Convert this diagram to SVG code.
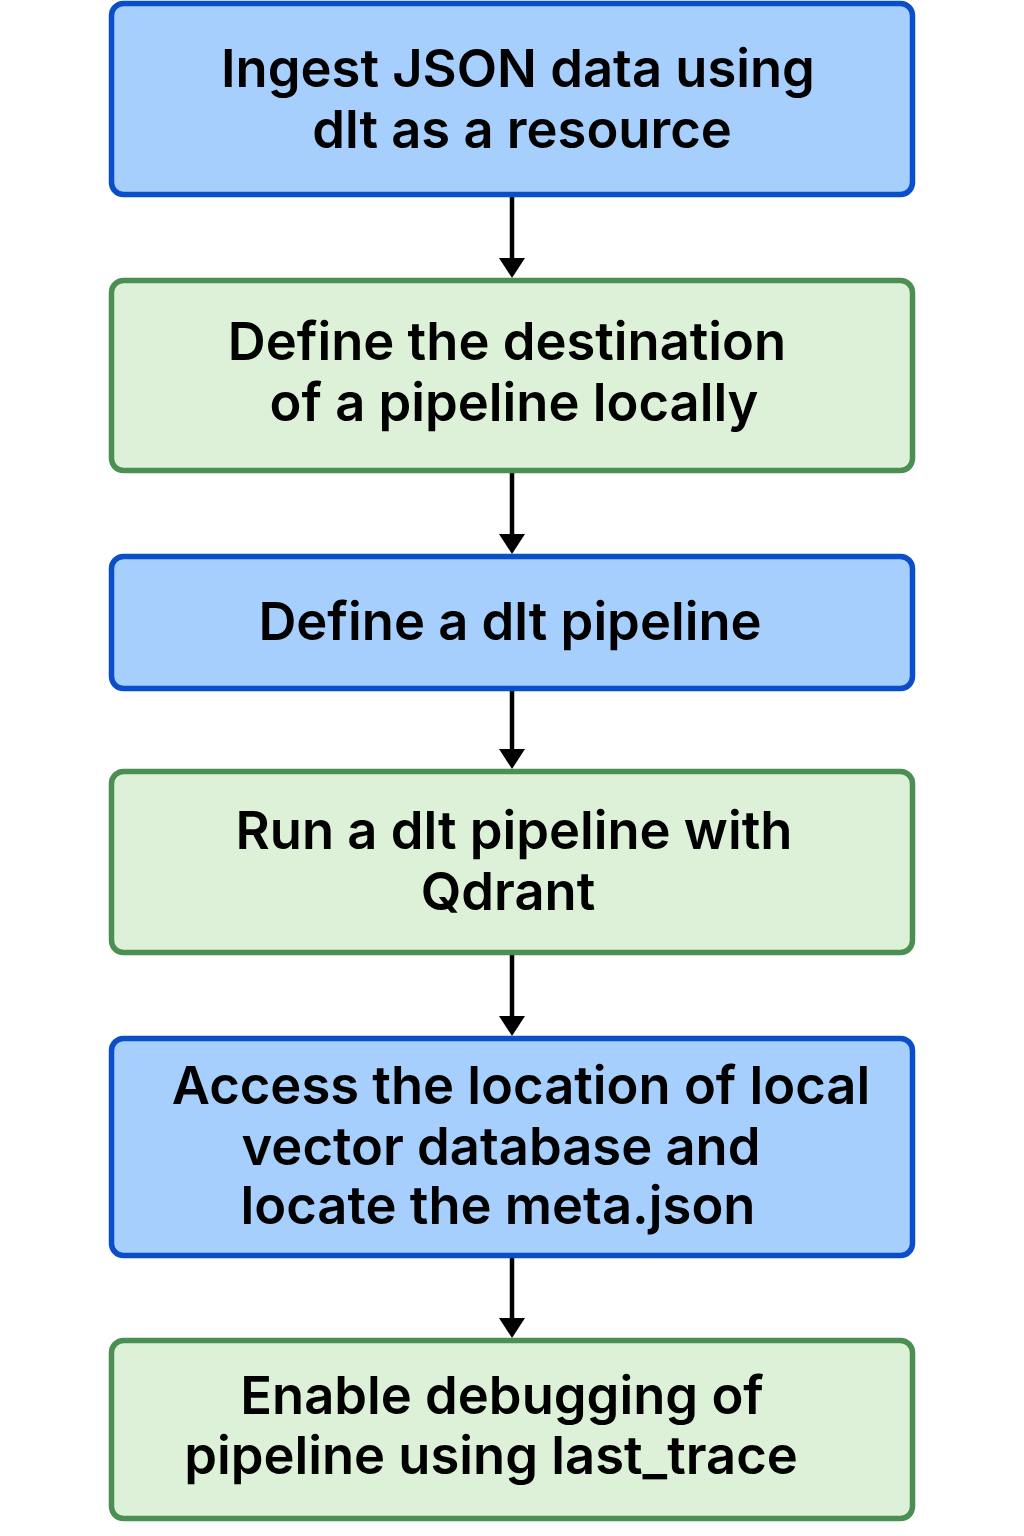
<svg xmlns="http://www.w3.org/2000/svg" width="1024" height="1536" viewBox="0 0 1024 1536">
<defs>
<style>
.blue{fill:#a7cffd;stroke:#0a4fc9;stroke-width:5.5}
.green{fill:#dcf1d7;stroke:#4b8f53;stroke-width:5.5}
.t{font-family:Inter,"Liberation Sans",sans-serif;font-weight:600;font-size:52.5px;fill:#000;text-anchor:middle}
.c{stroke:#000;stroke-width:4.5;fill:none}
</style>
</defs>
<rect width="1024" height="1536" fill="#fff"/>
<g id="connectors">
<line class="c" x1="512" y1="197" x2="512" y2="260"/>
<path d="M499,258 L525,258 L512,278 z"/>
<line class="c" x1="512" y1="473" x2="512" y2="536"/>
<path d="M499,534 L525,534 L512,554 z"/>
<line class="c" x1="512" y1="691" x2="512" y2="751"/>
<path d="M499,749 L525,749 L512,769 z"/>
<line class="c" x1="512" y1="955" x2="512" y2="1018"/>
<path d="M499,1016 L525,1016 L512,1036 z"/>
<line class="c" x1="512" y1="1258" x2="512" y2="1320"/>
<path d="M499,1318 L525,1318 L512,1338 z"/>
</g>
<g id="n1">
<rect class="blue" x="111.5" y="3.5" width="801" height="191" rx="12"/>
<text class="t" x="518" y="87">Ingest JSON data using</text>
<text class="t" x="522" y="148">dlt as a resource</text>
</g>
<g id="n2">
<rect class="green" x="111.5" y="280.5" width="801" height="190" rx="12"/>
<text class="t" x="507" y="360">Define the destination</text>
<text class="t" x="514" y="421">of a pipeline locally</text>
</g>
<g id="n3">
<rect class="blue" x="111.5" y="556.5" width="801" height="132" rx="12"/>
<text class="t" x="510" y="640">Define a dlt pipeline</text>
</g>
<g id="n4">
<rect class="green" x="111.5" y="771.5" width="801" height="181" rx="12"/>
<text class="t" x="514" y="849">Run a dlt pipeline with</text>
<text class="t" x="508" y="910">Qdrant</text>
</g>
<g id="n5">
<rect class="blue" x="111.5" y="1038.5" width="801" height="217" rx="12"/>
<text class="t" x="521" y="1104">Access the location of local</text>
<text class="t" x="501" y="1165">vector database and</text>
<text class="t" x="498" y="1224">locate the meta.json</text>
</g>
<g id="n6">
<rect class="green" x="111.5" y="1340.5" width="801" height="178" rx="12"/>
<text class="t" x="502" y="1414">Enable debugging of</text>
<text class="t" x="491" y="1474">pipeline using last_trace</text>
</g>
</svg>
